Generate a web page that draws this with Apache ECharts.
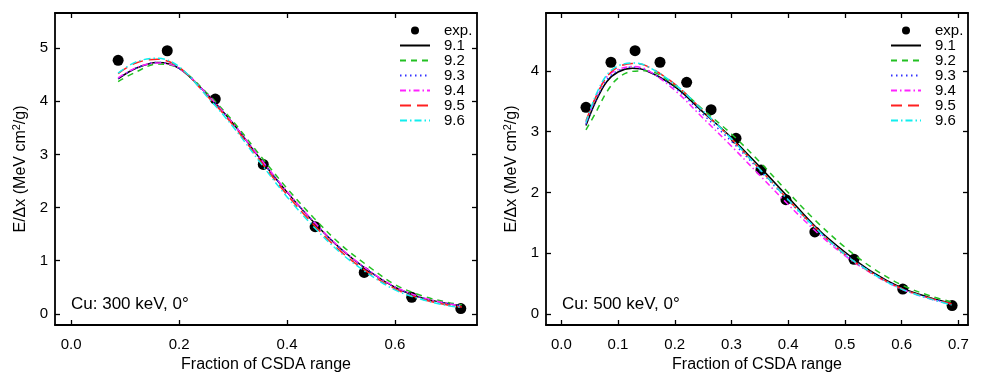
<!DOCTYPE html>
<html>
<head>
<meta charset="utf-8">
<script src="https://cdn.jsdelivr.net/npm/echarts@6/dist/echarts.min.js"></script>
<style>
  html, body { margin: 0; padding: 0; background: #fff; }
  #box { width: 981px; height: 381px; }
</style>
</head>
<body>
<div id="box"></div>
<script>
// 左图: Cu 300 keV
let expX300 = [0.087, 0.178, 0.267, 0.356, 0.452, 0.543, 0.631, 0.722];
let expY300 = [4.77, 4.95, 4.04, 2.81, 1.64, 0.78, 0.31, 0.10];
let curveX300 = [0.087, 0.12, 0.16, 0.2, 0.25, 0.3, 0.35, 0.4, 0.45, 0.5, 0.55, 0.6, 0.65, 0.7, 0.724];
let c300_91 = [4.42, 4.62, 4.73, 4.62, 4.15, 3.58, 2.92, 2.29, 1.72, 1.22, 0.82, 0.50, 0.30, 0.19, 0.15];
let c300_92 = [4.37, 4.55, 4.70, 4.62, 4.17, 3.62, 2.98, 2.36, 1.80, 1.30, 0.90, 0.55, 0.34, 0.21, 0.17];
let c300_93 = [4.43, 4.62, 4.73, 4.62, 4.15, 3.58, 2.92, 2.29, 1.72, 1.22, 0.82, 0.50, 0.30, 0.19, 0.15];
let c300_94 = [4.44, 4.63, 4.72, 4.62, 4.15, 3.58, 2.93, 2.30, 1.73, 1.23, 0.83, 0.51, 0.31, 0.19, 0.15];
let c300_95 = [4.52, 4.72, 4.79, 4.64, 4.12, 3.55, 2.88, 2.24, 1.67, 1.17, 0.78, 0.47, 0.28, 0.16, 0.13];
let c300_96 = [4.53, 4.74, 4.81, 4.65, 4.11, 3.52, 2.85, 2.20, 1.63, 1.14, 0.76, 0.45, 0.27, 0.15, 0.12];

// 右图: Cu 500 keV
let expX500 = [0.0435, 0.0875, 0.130, 0.174, 0.221, 0.264, 0.308, 0.352, 0.396, 0.447, 0.516, 0.602, 0.689];
let expY500 = [3.40, 4.14, 4.33, 4.14, 3.81, 3.36, 2.89, 2.37, 1.88, 1.35, 0.90, 0.41, 0.14];
let curveX500 = [0.0435, 0.06, 0.08, 0.1, 0.125, 0.15, 0.2, 0.25, 0.3, 0.35, 0.4, 0.45, 0.5, 0.55, 0.6, 0.65, 0.688];
let c500_91 = [3.10, 3.48, 3.82, 3.98, 4.04, 4.00, 3.74, 3.32, 2.90, 2.42, 1.92, 1.42, 1.02, 0.68, 0.43, 0.27, 0.18];
let c500_92 = [3.03, 3.30, 3.65, 3.88, 3.99, 4.00, 3.76, 3.36, 2.96, 2.50, 2.00, 1.52, 1.10, 0.75, 0.48, 0.30, 0.20];
let c500_93 = [3.12, 3.50, 3.85, 4.00, 4.06, 4.01, 3.72, 3.28, 2.84, 2.36, 1.87, 1.39, 0.99, 0.67, 0.42, 0.26, 0.17];
let c500_94 = [3.15, 3.55, 3.90, 4.02, 4.07, 4.02, 3.68, 3.22, 2.76, 2.28, 1.80, 1.35, 0.96, 0.65, 0.41, 0.25, 0.16];
let c500_95 = [3.18, 3.55, 3.90, 4.06, 4.12, 4.08, 3.78, 3.34, 2.88, 2.38, 1.88, 1.40, 0.98, 0.66, 0.42, 0.26, 0.17];
let c500_96 = [3.15, 3.58, 3.93, 4.08, 4.13, 4.08, 3.78, 3.34, 2.88, 2.38, 1.88, 1.40, 0.98, 0.66, 0.41, 0.25, 0.15];

let xTicks300 = [0, 0.2, 0.4, 0.6];
let yTicks300 = [0, 1, 2, 3, 4, 5];
let xTicks500 = [0, 0.1, 0.2, 0.3, 0.4, 0.5, 0.6, 0.7];
let yTicks500 = [0, 1, 2, 3, 4];

let seriesNames = ['9.1', '9.2', '9.3', '9.4', '9.5', '9.6'];
let seriesColors = ['#000000', '#22c022', '#3333ff', '#ff22ff', '#ff2020', '#11eeee'];
let dashTypes = ['solid', [6, 5], [1.5, 3.5], [6, 3, 1.5, 3], [11, 6], [7, 3, 1.5, 3]];

const FONT = 'Liberation Sans, Arial, Helvetica, sans-serif';

let chart = echarts.init(document.getElementById('box'));

function pairs(xs, ys) {
    return xs.map(function (x, i) { return [x, ys[i]]; });
}

// 四周的坐标轴, 刻度朝内
function makeAxes(gi, xr, yr, xt, yt) {
    let tick = { show: true, inside: true, length: 5, lineStyle: { color: '#000', width: 1.3 } };
    let line = { show: true, onZero: false, lineStyle: { color: '#000', width: 1.8 } };
    let xs = [
        {
            gridIndex: gi, type: 'value', position: 'bottom', min: xr[0], max: xr[1],
            axisLine: line, splitLine: { show: false },
            axisTick: Object.assign({ customValues: xt }, tick),
            axisLabel: {
                customValues: xt, margin: 12, color: '#000', fontSize: 15, fontFamily: FONT,
                formatter: function (v) { return v.toFixed(1); }
            },
            name: 'Fraction of CSDA range', nameLocation: 'middle', nameGap: 31,
            nameTextStyle: { color: '#000', fontSize: 16, fontFamily: FONT }
        },
        {
            gridIndex: gi, type: 'value', position: 'top', min: xr[0], max: xr[1],
            axisLine: line, splitLine: { show: false },
            axisTick: Object.assign({ customValues: xt }, tick),
            axisLabel: { show: false }
        }
    ];
    let ys = [
        {
            gridIndex: gi, type: 'value', position: 'left', min: yr[0], max: yr[1],
            axisLine: line, splitLine: { show: false },
            axisTick: Object.assign({ customValues: yt }, tick),
            axisLabel: { customValues: yt, margin: 7, color: '#000', fontSize: 15, fontFamily: FONT },
            name: 'E/Δx (MeV cm{sup|2}/g)', nameLocation: 'middle', nameGap: 24, nameRotate: 90,
            nameTextStyle: {
                color: '#000', fontSize: 16, fontFamily: FONT,
                rich: { sup: { fontSize: 11, fontFamily: FONT, color: '#000', padding: [0, 0, 9, 0] } }
            }
        },
        {
            gridIndex: gi, type: 'value', position: 'right', min: yr[0], max: yr[1],
            axisLine: line, splitLine: { show: false },
            axisTick: Object.assign({ customValues: yt }, tick),
            axisLabel: { show: false }
        }
    ];
    return { xs: xs, ys: ys };
}

function makeSeries(gi, ex, ey, cx, curves) {
    let out = [{
        name: 'exp.', type: 'scatter', xAxisIndex: gi * 2, yAxisIndex: gi * 2,
        data: pairs(ex, ey), symbol: 'circle', symbolSize: 11, z: 1,
        itemStyle: { color: '#000', opacity: 1 }
    }];
    curves.forEach(function (ys, i) {
        out.push({
            name: seriesNames[i], type: 'line', xAxisIndex: gi * 2, yAxisIndex: gi * 2,
            data: pairs(cx, ys), smooth: 0.35, symbol: 'none', z: 2 + i,
            lineStyle: { color: seriesColors[i], width: 1.5, type: dashTypes[i] },
            itemStyle: { color: seriesColors[i] }
        });
    });
    return out;
}

let a1 = makeAxes(0, [-0.03, 0.752], [-0.21, 5.66], xTicks300, yTicks300);
let a2 = makeAxes(1, [-0.027, 0.717], [-0.18, 4.95], xTicks500, yTicks500);

function makeLegend(left) {
    let items = [{ name: 'exp.', icon: 'circle', itemStyle: { color: '#000', opacity: 1 } }];
    seriesNames.forEach(function (n) {
        items.push({ name: n, itemStyle: { opacity: 0 } });
    });
    return {
        left: left, top: 23, padding: 0, orient: 'vertical', align: 'left',
        itemWidth: 30, itemHeight: 8, itemGap: 0,
        textStyle: { color: '#000', fontSize: 15, fontFamily: FONT, lineHeight: 15, padding: [0, 0, 0, 9] },
        data: items,
        selectedMode: false
    };
}

let option = {
    backgroundColor: '#fff',
    animation: false,
    grid: [
        { left: 55, top: 13, width: 422, height: 312 },
        { left: 546, top: 13, width: 422, height: 312 }
    ],
    xAxis: a1.xs.concat(a2.xs),
    yAxis: a1.ys.concat(a2.ys),
    legend: [makeLegend(399), makeLegend(890)],
    graphic: [
        { type: 'text', left: 71, top: 296, style: { text: 'Cu: 300 keV, 0°', fontSize: 17, fontFamily: FONT, fill: '#000' } },
        { type: 'text', left: 562, top: 296, style: { text: 'Cu: 500 keV, 0°', fontSize: 17, fontFamily: FONT, fill: '#000' } }
    ],
    series: makeSeries(0, expX300, expY300, curveX300, [c300_91, c300_92, c300_93, c300_94, c300_95, c300_96])
        .concat(makeSeries(1, expX500, expY500, curveX500, [c500_91, c500_92, c500_93, c500_94, c500_95, c500_96]))
};
chart.setOption(option);
</script>
</body>
</html>
